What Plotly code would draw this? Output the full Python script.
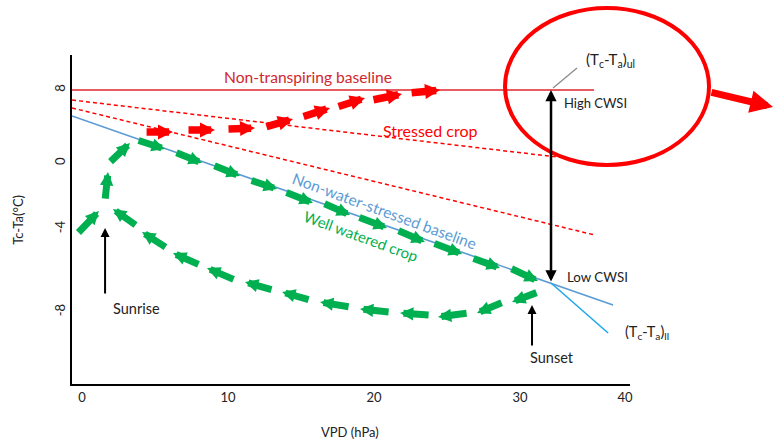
import plotly.graph_objects as go

# ---------------- data (VPD in hPa, Tc-Ta in °C, schematic) ----------------
x_tick_vals = [0, 10, 20, 30, 37.19]
x_tick_text = ["0", "10", "20", "30", "40"]
y_tick_vals = [8, 2.83, -1.84, -7.72]
y_tick_text = ["8", "0", "-4", "-8"]

nontransp_x = [-0.68, 35.07]
nontransp_y = [8.0, 8.0]
stress_hi_x = [-0.68, 32.53]
stress_hi_y = [7.29, 3.26]
stress_lo_x = [-0.68, 35.14]
stress_lo_y = [6.73, -2.27]
nwsb_x = [-0.68, 36.37]
nwsb_y = [6.16, -7.22]
ll_x = [32.12, 36.03]
ll_y = [-5.66, -9.20]

# well-watered crop: forward path (morning -> afternoon)
green_fwd_tail_x = [-0.34, 1.58, 1.85, 3.77, 6.37, 8.97, 11.51, 13.90, 16.51, 18.90, 21.58, 24.04, 26.71, 29.32]
green_fwd_tail_y = [-2.19, 0.21, 2.83, 4.46, 3.61, 2.69, 1.63, 0.78, 0.00, -0.99, -1.91, -2.83, -3.89, -4.60]
green_fwd_tip_x = [1.16, 1.78, 3.29, 5.68, 8.22, 10.82, 13.36, 15.82, 18.36, 20.89, 23.49, 26.03, 28.63, 31.23]
green_fwd_tip_y = [-0.57, 2.19, 4.25, 3.82, 2.83, 1.91, 0.99, 0.00, -0.85, -1.77, -2.76, -3.61, -4.60, -5.52]

# well-watered crop: return path (sunset -> night)
green_ret_tail_x = [31.23, 28.84, 26.44, 23.84, 21.10, 18.36, 15.62, 13.08, 10.48, 8.08, 5.82, 3.77]
green_ret_tail_y = [-6.30, -7.01, -7.79, -7.93, -7.72, -7.36, -6.87, -6.16, -5.45, -4.39, -3.19, -1.63]
green_ret_tip_x = [29.45, 27.05, 24.38, 21.78, 19.04, 16.30, 13.70, 11.16, 8.56, 6.23, 4.11, 2.12]
green_ret_tip_y = [-7.01, -7.79, -8.07, -7.79, -7.50, -7.01, -6.30, -5.59, -4.60, -3.54, -2.05, -0.42]

# stressed crop path
red_tail_x = [4.32, 7.19, 9.93, 12.53, 15.07, 17.47, 19.86, 22.47]
red_tail_y = [5.03, 5.17, 5.24, 5.38, 6.09, 6.80, 7.29, 7.79]
red_tip_x = [6.23, 9.11, 11.85, 14.45, 16.99, 19.38, 21.92, 24.52]
red_tip_y = [5.03, 5.17, 5.31, 5.95, 6.73, 7.43, 7.72, 8.00]

cwsi_x = 32.12
cwsi_upper = 8.0
cwsi_lower = -5.66
sunrise = (1.58, -6.51, -1.77)
sunset = (30.82, -10.19, -7.22)

# ---------------- styles ----------------
FONT = "Lato"
RED = "#FF0000"
GREEN = "#00B050"
BLUE = "#5B9BD5"
LIGHTBLUE = "#1FA8EA"

fig = go.Figure()

def add_line(x, y, color, width, dash="solid"):
    fig.add_trace(go.Scatter(x=x, y=y, mode="lines", hoverinfo="skip", showlegend=False,
                             line=dict(color=color, width=width, dash=dash)))

add_line(nontransp_x, nontransp_y, "#E0262B", 1.5)
add_line(stress_hi_x, stress_hi_y, RED, 1.5, "4px,3px")
add_line(stress_lo_x, stress_lo_y, RED, 1.5, "4px,3px")
add_line(nwsb_x, nwsb_y, BLUE, 1.6)
add_line(ll_x, ll_y, LIGHTBLUE, 1.6)

annotations = []

def arrow(tx, ty, hx, hy, color, width, size):
    annotations.append(dict(x=hx, y=hy, ax=tx, ay=ty, xref="x", yref="y", axref="x", ayref="y",
                            text="", showarrow=True, arrowhead=2, arrowsize=size,
                            arrowwidth=width, arrowcolor=color))

for tx, ty, hx, hy in zip(green_fwd_tail_x, green_fwd_tail_y, green_fwd_tip_x, green_fwd_tip_y):
    arrow(tx, ty, hx, hy, GREEN, 7, 0.38)
for tx, ty, hx, hy in zip(green_ret_tail_x, green_ret_tail_y, green_ret_tip_x, green_ret_tip_y):
    arrow(tx, ty, hx, hy, GREEN, 7, 0.38)
for tx, ty, hx, hy in zip(red_tail_x, red_tail_y, red_tip_x, red_tip_y):
    arrow(tx, ty, hx, hy, RED, 7.5, 0.4)

# CWSI double arrow
annotations.append(dict(x=cwsi_x, y=cwsi_upper, ax=cwsi_x, ay=cwsi_lower, xref="x", yref="y",
                        axref="x", ayref="y", text="", showarrow=True, arrowside="end+start",
                        arrowhead=2, startarrowhead=2, arrowsize=0.9, startarrowsize=0.9,
                        arrowwidth=2.5, arrowcolor="black"))
# sunrise / sunset arrows
for sx, y0, y1 in (sunrise, sunset):
    annotations.append(dict(x=sx, y=y1, ax=sx, ay=y0, xref="x", yref="y", axref="x", ayref="y",
                            text="", showarrow=True, arrowhead=2, arrowsize=0.9,
                            arrowwidth=2, arrowcolor="black"))

def label(x, y, text, color, size, angle=0, xref="x", yref="y", xanchor="center"):
    annotations.append(dict(x=x, y=y, xref=xref, yref=yref, text=text, showarrow=False,
                            textangle=angle, xanchor=xanchor, yanchor="middle",
                            font=dict(family=FONT, size=size, color=color)))

label(15.48, 8.92, "Non-transpiring baseline", "#D0282E", 15.6)
label(23.84, 5.17, "Stressed crop", RED, 16)
label(20.75, -0.57, "Non-water-stressed baseline", BLUE, 15.5, 20)
label(19.11, -2.34, "Well watered crop", GREEN, 15, 20)
label(36.16, 10.12, "(T<sub>c</sub>-T<sub>a</sub>)<sub>ul</sub>", "#222", 15)
label(35.14, 7.08, "High CWSI", "#222", 13)
label(35.27, -5.24, "Low CWSI", "#222", 13.3)
label(1.030, 0.158, "(T<sub>c</sub>-T<sub>a</sub>)<sub>ll</sub>", "#222", 14.5, xref="paper", yref="paper")
label(3.70, -7.50, "Sunrise", "#222", 14.5)
label(32.19, -10.96, "Sunset", "#222", 14.5)

# axis titles
label(-0.097, 0.4985, "Tc-Ta(°C)", "#222", 13, -90, xref="paper", yref="paper")
label(0.498, -0.146, "VPD (hPa)", "#222", 13, xref="paper", yref="paper")

# big red arrow leaving the ellipse
annotations.append(dict(x=1.2867, y=0.842, xref="paper", yref="paper", ax=-80, ay=-15,
                        text="", showarrow=True, arrowhead=2, arrowsize=0.65,
                        arrowwidth=7, arrowcolor=RED))

shapes = [
    # leader line to (Tc-Ta)ul
    dict(type="line", xref="x", yref="y", x0=32.26, y0=8.14, x1=33.90, y1=9.56,
         line=dict(color="#8C8C8C", width=1.3)),
    # highlight ellipse
    dict(type="circle", xref="paper", yref="paper", x0=0.776, x1=1.1416, y0=0.6657, y1=1.143,
         line=dict(color=RED, width=4)),
]

axis_common = dict(showline=True, linecolor="black", linewidth=2, showgrid=False,
                   zeroline=False, ticks="", tickfont=dict(family=FONT, size=13, color="#222"))

fig.update_layout(
    width=774, height=442,
    margin=dict(l=72, r=144, t=55, b=58),
    paper_bgcolor="white", plot_bgcolor="white",
    xaxis=dict(range=[-0.685, 37.53], tickvals=x_tick_vals, ticktext=x_tick_text, **axis_common),
    yaxis=dict(range=[-12.81, 10.48], tickvals=y_tick_vals, ticktext=y_tick_text,
               tickangle=-90, **axis_common),
    annotations=annotations,
    shapes=shapes,
    showlegend=False,
)

fig.write_html("out.html", config={"displayModeBar": False},
               post_script="document.body.style.margin='0';")
